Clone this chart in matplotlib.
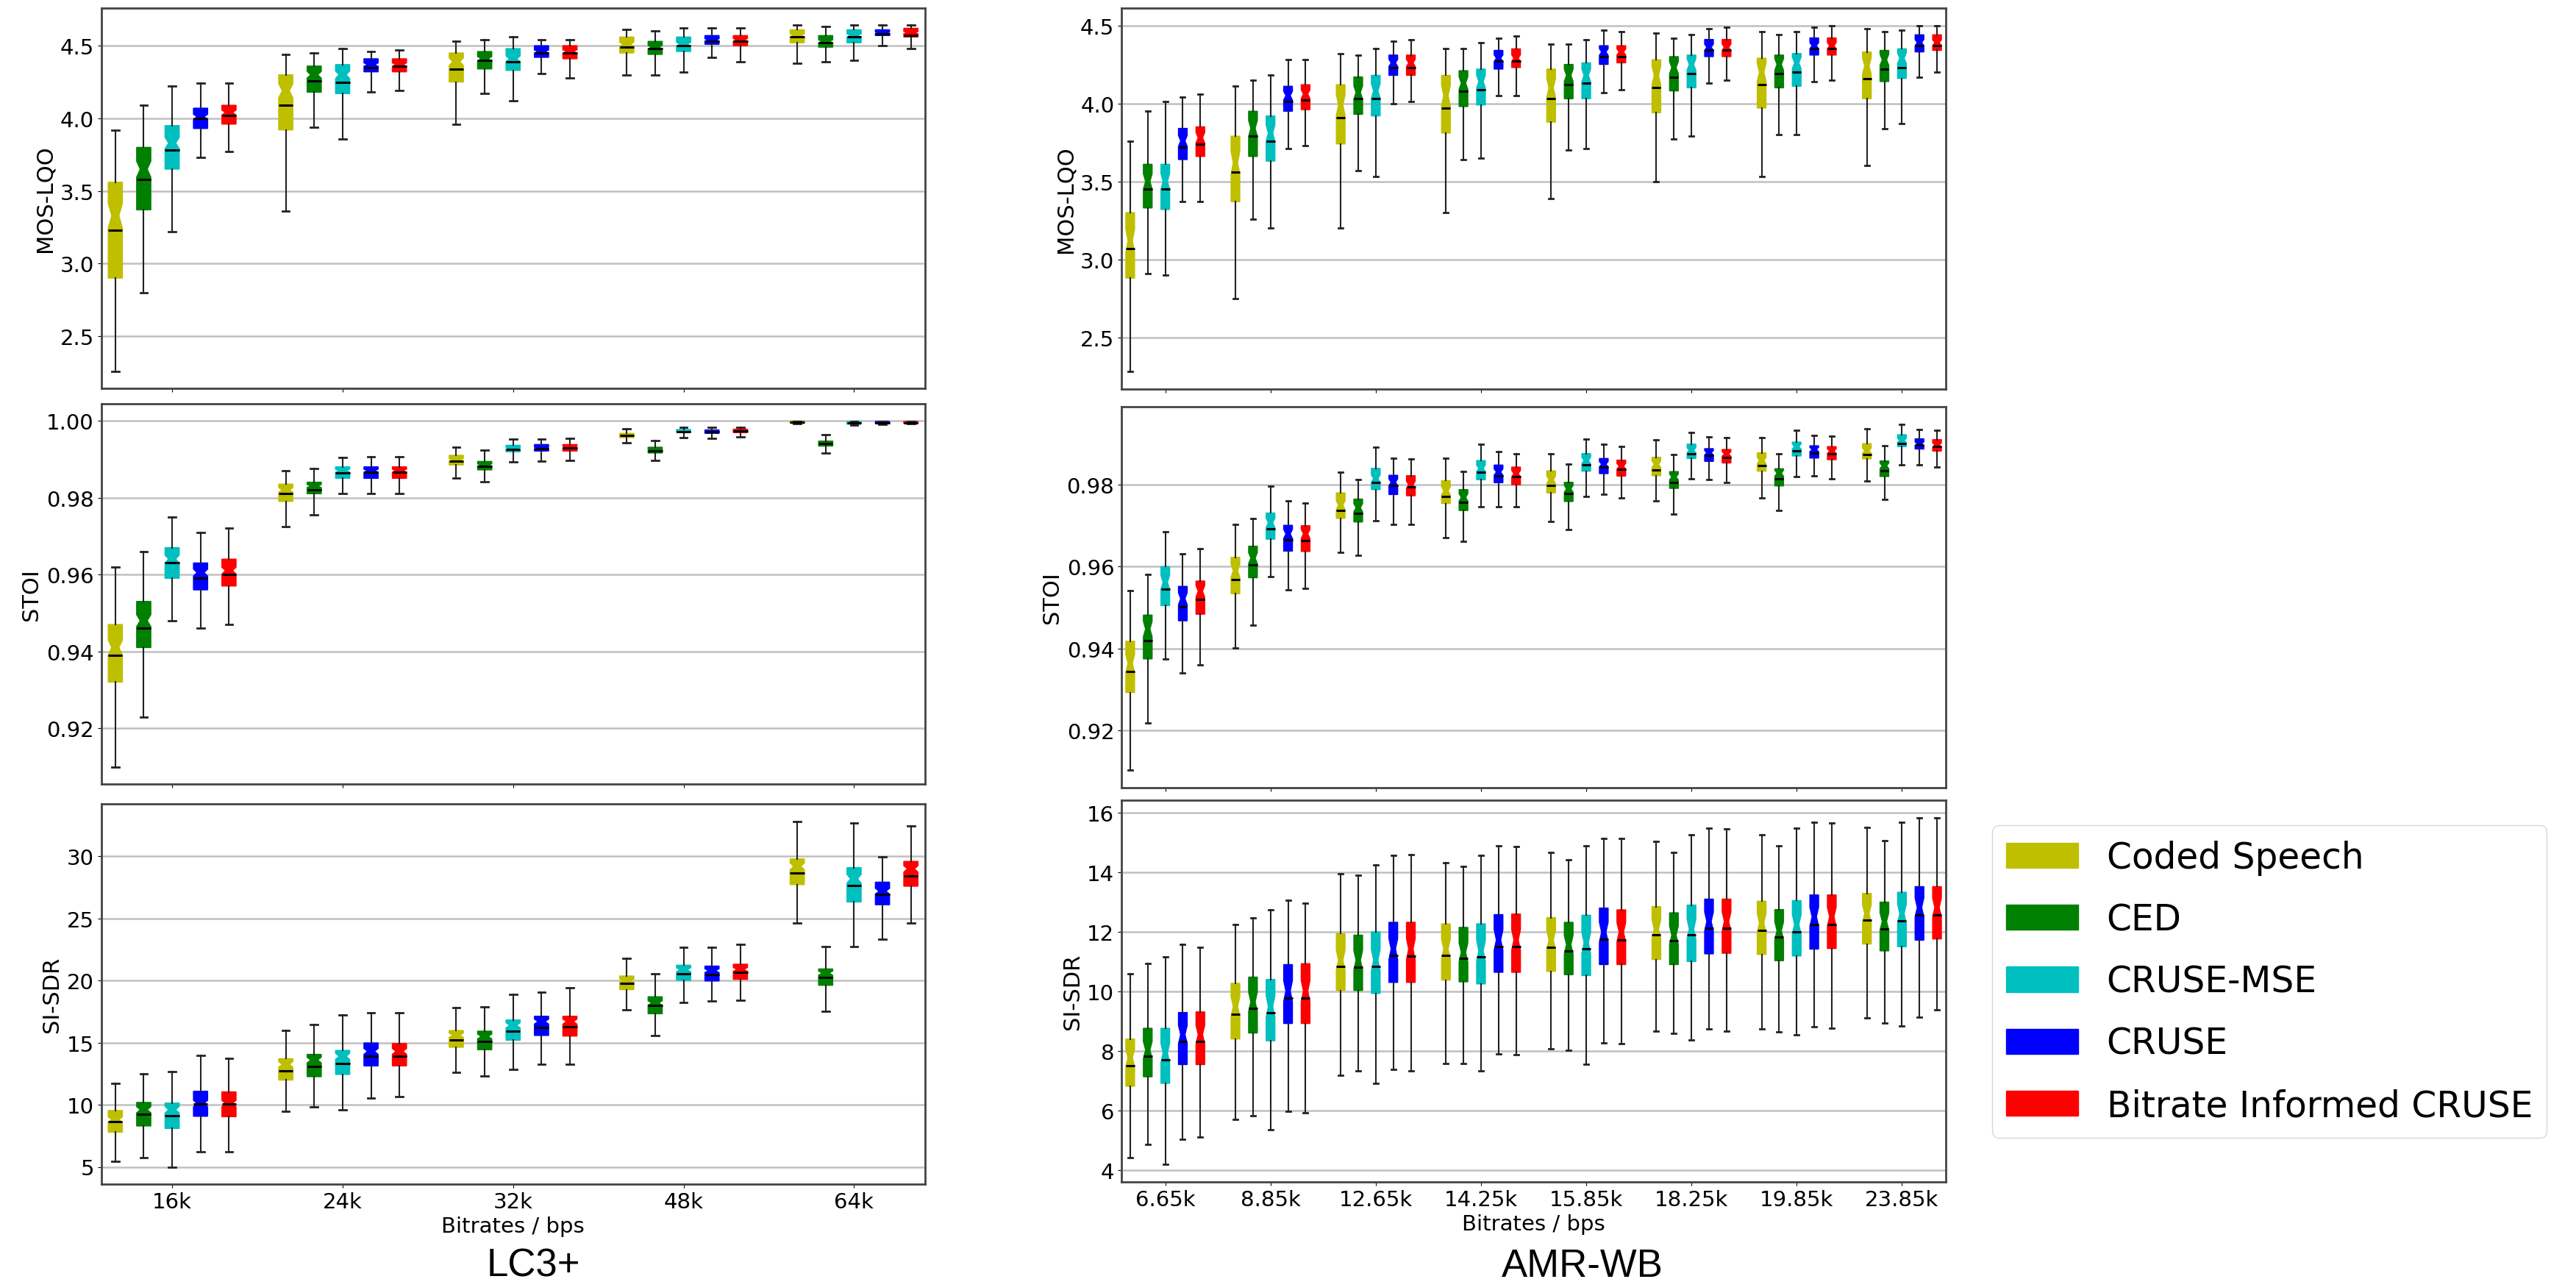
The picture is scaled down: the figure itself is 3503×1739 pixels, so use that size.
import matplotlib
matplotlib.use("Agg")
import matplotlib.pyplot as plt
from matplotlib.patches import Patch
import numpy as np

# methods / colours
METHODS = ["Coded Speech", "CED", "CRUSE-MSE", "CRUSE", "Bitrate Informed CRUSE"]
COLORS = ["y", "g", "c", "b", "r"]

LC3_RATES = ["16k", "24k", "32k", "48k", "64k"]
AMR_RATES = ["6.65k", "8.85k", "12.65k", "14.25k", "15.85k", "18.25k", "19.85k", "23.85k"]

# rows = bitrate, cols = method
# LC3+ MOS-LQO
LC3_MOS_LO = [[2.26, 2.80, 3.22, 3.73, 3.77], [3.36, 3.94, 3.86, 4.18, 4.19], [3.96, 4.17, 4.12, 4.31, 4.28],
              [4.30, 4.30, 4.32, 4.42, 4.39], [4.38, 4.39, 4.40, 4.50, 4.48]]
LC3_MOS_Q1 = [[2.90, 3.37, 3.65, 3.93, 3.96], [3.92, 4.18, 4.17, 4.32, 4.32], [4.25, 4.34, 4.33, 4.42, 4.41],
              [4.45, 4.44, 4.46, 4.51, 4.50], [4.52, 4.49, 4.52, 4.57, 4.56]]
LC3_MOS_MED = [[3.33, 3.65, 3.83, 4.01, 4.04], [4.19, 4.30, 4.30, 4.37, 4.37], [4.39, 4.41, 4.41, 4.46, 4.46],
               [4.51, 4.49, 4.51, 4.54, 4.54], [4.57, 4.53, 4.57, 4.59, 4.59]]
LC3_MOS_MEAN = [[3.23, 3.58, 3.78, 4.00, 4.02], [4.09, 4.26, 4.25, 4.35, 4.36], [4.34, 4.40, 4.39, 4.45, 4.45],
                [4.49, 4.48, 4.50, 4.53, 4.53], [4.56, 4.52, 4.56, 4.58, 4.57]]
LC3_MOS_Q3 = [[3.56, 3.80, 3.95, 4.07, 4.09], [4.30, 4.36, 4.37, 4.41, 4.41], [4.45, 4.46, 4.48, 4.50, 4.50],
              [4.56, 4.53, 4.56, 4.57, 4.57], [4.61, 4.57, 4.61, 4.61, 4.62]]
LC3_MOS_HI = [[3.92, 4.09, 4.22, 4.24, 4.24], [4.44, 4.45, 4.48, 4.46, 4.47], [4.53, 4.54, 4.56, 4.54, 4.54],
              [4.61, 4.60, 4.62, 4.62, 4.62], [4.64, 4.63, 4.64, 4.64, 4.64]]

# LC3+ STOI
LC3_STOI_LO = [[0.910, 0.923, 0.948, 0.946, 0.947], [0.9725, 0.9756, 0.981, 0.981, 0.981],
               [0.985, 0.9841, 0.9892, 0.9894, 0.9896], [0.9943, 0.9896, 0.9956, 0.9954, 0.9958],
               [0.9992, 0.9916, 0.9989, 0.9990, 0.9993]]
LC3_STOI_Q1 = [[0.932, 0.941, 0.959, 0.956, 0.957], [0.979, 0.981, 0.985, 0.985, 0.985],
               [0.9885, 0.9872, 0.9919, 0.9921, 0.9921], [0.9956, 0.9916, 0.9969, 0.9967, 0.9969],
               [0.9993, 0.9934, 0.9991, 0.9992, 0.9993]]
LC3_STOI_MED = [[0.941, 0.948, 0.964, 0.9605, 0.961], [0.982, 0.983, 0.987, 0.987, 0.987],
                [0.9898, 0.9885, 0.9928, 0.9929, 0.9931], [0.9962, 0.9922, 0.9973, 0.9972, 0.9974],
                [0.9996, 0.9941, 0.9995, 0.9995, 0.9996]]
LC3_STOI_MEAN = [[0.939, 0.946, 0.963, 0.959, 0.960], [0.981, 0.982, 0.9864, 0.9866, 0.9866],
                 [0.9894, 0.9882, 0.9925, 0.9927, 0.9929], [0.9961, 0.9921, 0.9971, 0.9971, 0.9973],
                 [0.9996, 0.9940, 0.9995, 0.9995, 0.9995]]
LC3_STOI_Q3 = [[0.947, 0.953, 0.967, 0.963, 0.964], [0.9835, 0.984, 0.988, 0.988, 0.988],
               [0.991, 0.9894, 0.9936, 0.9938, 0.9938], [0.9967, 0.9931, 0.9977, 0.9976, 0.9978],
               [0.9999, 0.9947, 0.9998, 0.9998, 0.9998]]
LC3_STOI_HI = [[0.962, 0.966, 0.975, 0.971, 0.972], [0.987, 0.9875, 0.9905, 0.9907, 0.9907],
               [0.9931, 0.9923, 0.9953, 0.9953, 0.9955], [0.9978, 0.9948, 0.9982, 0.9982, 0.9982],
               [0.9999, 0.9964, 0.9999, 0.9999, 0.9999]]

# LC3+ SI-SDR
LC3_SDR_LO = [[5.45, 5.75, 5.0, 6.2, 6.2], [9.47, 9.84, 9.57, 10.56, 10.64], [12.63, 12.29, 12.86, 13.26, 13.26],
              [17.67, 15.58, 18.25, 18.35, 18.42], [24.66, 17.55, 22.74, 23.36, 24.66]]
LC3_SDR_Q1 = [[7.79, 8.29, 8.09, 9.07, 9.04], [11.99, 12.26, 12.44, 13.13, 13.13], [14.63, 14.43, 15.2, 15.58, 15.53],
              [19.27, 17.33, 20.02, 19.97, 20.1], [27.73, 19.62, 26.33, 26.11, 27.6]]
LC3_SDR_MED = [[8.8, 9.6, 9.6, 10.1, 10.1], [13.25, 13.6, 13.9, 14.3, 14.3], [15.6, 15.5, 16.4, 16.7, 16.7],
               [20.0, 18.2, 20.87, 20.8, 20.9], [29.2, 20.6, 28.2, 27.2, 29.0]]
LC3_SDR_MEAN = [[8.64, 9.22, 9.09, 10.09, 10.09], [12.73, 13.08, 13.31, 13.93, 13.93],
                [15.23, 15.08, 15.93, 16.23, 16.28], [19.8, 18.0, 20.54, 20.49, 20.67],
                [28.65, 20.27, 27.68, 26.96, 28.4]]
LC3_SDR_Q3 = [[9.54, 10.19, 10.14, 11.09, 11.04], [13.71, 14.06, 14.38, 14.98, 14.93],
              [15.98, 15.93, 16.83, 17.13, 17.13], [20.37, 18.7, 21.24, 21.17, 21.32], [29.8, 20.94, 29.1, 27.93, 29.6]]
LC3_SDR_HI = [[11.71, 12.51, 12.68, 14.0, 13.76], [15.98, 16.45, 17.23, 17.4, 17.4],
              [17.82, 17.87, 18.87, 19.05, 19.45], [21.82, 20.54, 22.69, 22.69, 22.91],
              [32.84, 22.74, 32.67, 29.98, 32.47]]

# AMR-WB MOS-LQO
AMR_MOS_LO = [[2.28, 2.91, 2.90, 3.37, 3.37], [2.75, 3.26, 3.20, 3.71, 3.73], [3.20, 3.57, 3.53, 4.00, 4.01],
              [3.30, 3.64, 3.65, 4.05, 4.05], [3.39, 3.70, 3.71, 4.07, 4.09], [3.50, 3.77, 3.79, 4.13, 4.15],
              [3.53, 3.80, 3.80, 4.14, 4.15], [3.60, 3.84, 3.87, 4.17, 4.20]]
AMR_MOS_Q1 = [[2.88, 3.33, 3.32, 3.64, 3.66], [3.37, 3.66, 3.63, 3.95, 3.96], [3.74, 3.93, 3.92, 4.18, 4.18],
              [3.81, 3.98, 3.99, 4.22, 4.23], [3.88, 4.03, 4.03, 4.25, 4.26], [3.94, 4.08, 4.10, 4.30, 4.30],
              [3.97, 4.10, 4.11, 4.31, 4.31], [4.03, 4.14, 4.16, 4.33, 4.34]]
AMR_MOS_MED = [[3.12, 3.50, 3.50, 3.76, 3.78], [3.62, 3.84, 3.81, 4.05, 4.06], [3.99, 4.07, 4.08, 4.26, 4.26],
               [4.05, 4.13, 4.14, 4.29, 4.29], [4.10, 4.18, 4.18, 4.33, 4.33], [4.18, 4.23, 4.25, 4.36, 4.36],
               [4.20, 4.25, 4.26, 4.37, 4.37], [4.24, 4.28, 4.29, 4.39, 4.39]]
AMR_MOS_MEAN = [[3.07, 3.45, 3.45, 3.72, 3.74], [3.56, 3.79, 3.76, 4.01, 4.02], [3.91, 4.03, 4.03, 4.23, 4.23],
                [3.97, 4.08, 4.09, 4.27, 4.27], [4.03, 4.12, 4.13, 4.30, 4.30], [4.10, 4.17, 4.19, 4.34, 4.34],
                [4.12, 4.19, 4.20, 4.35, 4.35], [4.16, 4.22, 4.23, 4.37, 4.37]]
AMR_MOS_Q3 = [[3.30, 3.61, 3.61, 3.84, 3.85], [3.79, 3.95, 3.92, 4.11, 4.12], [4.12, 4.17, 4.18, 4.31, 4.31],
              [4.18, 4.21, 4.22, 4.34, 4.35], [4.22, 4.25, 4.26, 4.37, 4.37], [4.28, 4.30, 4.31, 4.41, 4.41],
              [4.29, 4.31, 4.32, 4.42, 4.42], [4.33, 4.34, 4.35, 4.44, 4.44]]
AMR_MOS_HI = [[3.76, 3.95, 4.01, 4.04, 4.06], [4.11, 4.15, 4.18, 4.28, 4.28], [4.32, 4.31, 4.35, 4.40, 4.41],
              [4.35, 4.35, 4.39, 4.42, 4.43], [4.38, 4.38, 4.41, 4.47, 4.46], [4.45, 4.42, 4.44, 4.48, 4.49],
              [4.46, 4.44, 4.46, 4.49, 4.50], [4.48, 4.46, 4.47, 4.50, 4.50]]

# AMR-WB STOI
AMR_STOI_LO = [[0.9103, 0.9219, 0.9374, 0.934, 0.936], [0.9401, 0.9458, 0.9576, 0.9544, 0.9547],
               [0.9635, 0.9627, 0.9713, 0.9704, 0.9703], [0.967, 0.9662, 0.9746, 0.9747, 0.9746],
               [0.971, 0.9691, 0.9772, 0.9777, 0.9767], [0.976, 0.9729, 0.9815, 0.9812, 0.9805],
               [0.9768, 0.9738, 0.982, 0.9822, 0.9814], [0.9809, 0.9764, 0.9848, 0.9849, 0.9844]]
AMR_STOI_Q1 = [[0.9293, 0.9375, 0.9505, 0.9468, 0.9484], [0.9534, 0.9573, 0.9667, 0.9638, 0.9637],
               [0.9718, 0.9709, 0.9788, 0.9776, 0.9773], [0.9754, 0.9737, 0.9812, 0.9805, 0.98],
               [0.978, 0.9759, 0.9833, 0.9827, 0.9821], [0.9822, 0.9791, 0.9864, 0.9857, 0.9853],
               [0.9833, 0.9797, 0.987, 0.9865, 0.9861], [0.9863, 0.982, 0.9893, 0.9887, 0.9882]]
AMR_STOI_MED = [[0.9364, 0.9448, 0.9562, 0.9522, 0.954], [0.959, 0.9621, 0.9707, 0.968, 0.968],
                [0.975, 0.9744, 0.9815, 0.9806, 0.98], [0.9785, 0.9769, 0.984, 0.9831, 0.9827],
                [0.9812, 0.979, 0.9859, 0.985, 0.9845], [0.985, 0.9819, 0.9884, 0.9878, 0.9875],
                [0.9859, 0.9828, 0.9893, 0.9886, 0.9882], [0.9883, 0.9846, 0.9908, 0.99, 0.9897]]
AMR_STOI_MEAN = [[0.9345, 0.942, 0.9545, 0.9503, 0.9521], [0.9568, 0.9604, 0.9692, 0.9666, 0.9664],
                 [0.9738, 0.973, 0.9806, 0.9798, 0.9794], [0.9772, 0.9757, 0.983, 0.9822, 0.9819],
                 [0.9799, 0.9778, 0.9849, 0.9843, 0.9838], [0.9836, 0.9805, 0.9876, 0.9871, 0.9867],
                 [0.9847, 0.9814, 0.9883, 0.9878, 0.9875], [0.9873, 0.9835, 0.9901, 0.9897, 0.9893]]
AMR_STOI_Q3 = [[0.9418, 0.9482, 0.96, 0.9552, 0.9565], [0.9623, 0.965, 0.9731, 0.9701, 0.97],
               [0.978, 0.9765, 0.984, 0.9823, 0.9822], [0.981, 0.9788, 0.9859, 0.9848, 0.9843],
               [0.9834, 0.9806, 0.9876, 0.9864, 0.986], [0.9867, 0.9832, 0.9899, 0.9888, 0.9886],
               [0.9878, 0.9839, 0.9904, 0.9895, 0.9893], [0.99, 0.9858, 0.9922, 0.9912, 0.991]]
AMR_STOI_HI = [[0.9542, 0.9581, 0.9686, 0.9631, 0.9644], [0.9704, 0.9717, 0.9796, 0.9761, 0.9756],
               [0.9831, 0.9812, 0.9891, 0.9865, 0.9862], [0.9865, 0.9833, 0.9899, 0.988, 0.9876],
               [0.9876, 0.9851, 0.9911, 0.9899, 0.9893], [0.9909, 0.9873, 0.9928, 0.9917, 0.9914],
               [0.9914, 0.9875, 0.9932, 0.992, 0.9919], [0.9936, 0.9895, 0.9948, 0.9935, 0.9932]]

# AMR-WB SI-SDR
AMR_SDR_LO = [[4.42, 4.85, 4.18, 5.03, 5.11], [5.69, 5.81, 5.34, 5.98, 5.92], [7.17, 7.32, 6.92, 7.39, 7.32],
              [7.58, 7.58, 7.33, 7.90, 7.88], [8.08, 8.03, 7.56, 8.27, 8.24], [8.66, 8.58, 8.36, 8.73, 8.66],
              [8.74, 8.63, 8.53, 8.81, 8.76], [9.10, 8.94, 8.84, 9.13, 9.39]]
AMR_SDR_Q1 = [[6.81, 7.13, 6.91, 7.54, 7.54], [8.40, 8.60, 8.34, 8.92, 8.92], [10.03, 10.03, 9.93, 10.30, 10.30],
              [10.38, 10.32, 10.25, 10.64, 10.64], [10.67, 10.56, 10.53, 10.90, 10.90],
              [11.07, 10.90, 11.00, 11.26, 11.28], [11.24, 11.03, 11.19, 11.42, 11.44],
              [11.59, 11.36, 11.50, 11.72, 11.76]]
AMR_SDR_MED = [[7.77, 8.03, 7.93, 8.55, 8.55], [9.49, 9.65, 9.49, 10.01, 10.01], [11.05, 11.05, 11.05, 11.42, 11.42],
               [11.42, 11.31, 11.36, 11.73, 11.73], [11.73, 11.57, 11.63, 11.99, 11.99],
               [12.09, 11.89, 12.09, 12.35, 12.35], [12.30, 12.04, 12.25, 12.51, 12.51],
               [12.61, 12.35, 12.61, 12.82, 12.82]]
AMR_SDR_MEAN = [[7.51, 7.82, 7.70, 8.31, 8.31], [9.23, 9.42, 9.28, 9.77, 9.77], [10.84, 10.81, 10.84, 11.21, 11.19],
                [11.21, 11.10, 11.16, 11.50, 11.50], [11.49, 11.36, 11.44, 11.75, 11.73],
                [11.91, 11.70, 11.89, 12.13, 12.13], [12.06, 11.82, 12.01, 12.25, 12.25],
                [12.40, 12.09, 12.38, 12.58, 12.58]]
AMR_SDR_Q3 = [[8.40, 8.76, 8.76, 9.29, 9.31], [10.27, 10.48, 10.40, 10.90, 10.93], [11.94, 11.89, 12.00, 12.32, 12.32],
              [12.27, 12.15, 12.27, 12.58, 12.60], [12.48, 12.32, 12.56, 12.80, 12.74],
              [12.85, 12.64, 12.90, 13.10, 13.10], [13.03, 12.75, 13.05, 13.24, 13.24],
              [13.29, 13.00, 13.33, 13.52, 13.52]]
AMR_SDR_HI = [[10.58, 10.94, 11.16, 11.59, 11.49], [12.25, 12.46, 12.75, 13.05, 12.97],
              [13.94, 13.89, 14.25, 14.58, 14.60], [14.32, 14.20, 14.58, 14.89, 14.86],
              [14.66, 14.43, 14.89, 15.15, 15.14], [15.03, 14.68, 15.25, 15.48, 15.46],
              [15.27, 14.89, 15.48, 15.69, 15.66], [15.50, 15.06, 15.69, 15.84, 15.84]]

# rough number of test files per codec (used for notch size)
N_LC3 = 150
N_AMR = 80

W, H = 3503, 1740
fig = plt.figure(figsize=(W / 100, H / 100), dpi=100)
plt.rcParams["font.family"] = "DejaVu Sans"


def px_rect(x0, y0, x1, y1):
    return [x0 / W, 1 - y1 / H, (x1 - x0) / W, (y1 - y0) / H]


def draw_panel(ax, data, rates, n_files, ylabel, show_xlabels):
    lo, q1, med, mean, q3, hi = [np.array(d) for d in data]
    n_groups = len(rates)
    for m, color in enumerate(COLORS):
        stats = []
        positions = []
        for g in range(n_groups):
            iqr = q3[g, m] - q1[g, m]
            ci = 1.57 * iqr / np.sqrt(n_files)
            stats.append(dict(med=med[g, m], q1=q1[g, m], q3=q3[g, m],
                              whislo=lo[g, m], whishi=hi[g, m], mean=mean[g, m],
                              cilo=med[g, m] - ci, cihi=med[g, m] + ci, fliers=[]))
            positions.append(6 * g + m + 1)
        ax.bxp(stats, positions=positions, widths=0.5, patch_artist=True,
               shownotches=True, showmeans=True, meanline=True, showfliers=False,
               manage_ticks=False,
               boxprops=dict(facecolor=color, edgecolor=color, linewidth=1),
               medianprops=dict(color=color, linewidth=0.5),
               meanprops=dict(color="k", linestyle="-", linewidth=2.2),
               whiskerprops=dict(color="#222222", linewidth=1.5),
               capprops=dict(color="#222222", linewidth=2))
    ax.set_xlim(0.5, 6 * (n_groups - 1) + 5.5)
    ax.margins(y=0.05)
    ax.autoscale(axis="y")
    ax.set_xticks([6 * g + 3 for g in range(n_groups)])
    if show_xlabels:
        ax.set_xticklabels(rates, fontsize=21)
        ax.set_xlabel("Bitrates / bps", fontsize=21)
    else:
        ax.set_xticklabels([])
    ax.tick_params(axis="y", labelsize=21)
    ax.set_ylabel(ylabel, fontsize=22)
    ax.yaxis.grid(True, color="#c0c0c0", linewidth=1.8)
    ax.set_axisbelow(True)
    for sp in ax.spines.values():
        sp.set_color("#444444")
        sp.set_linewidth(2)


lc3_panels = [
    ((LC3_MOS_LO, LC3_MOS_Q1, LC3_MOS_MED, LC3_MOS_MEAN, LC3_MOS_Q3, LC3_MOS_HI), "MOS-LQO"),
    ((LC3_STOI_LO, LC3_STOI_Q1, LC3_STOI_MED, LC3_STOI_MEAN, LC3_STOI_Q3, LC3_STOI_HI), "STOI"),
    ((LC3_SDR_LO, LC3_SDR_Q1, LC3_SDR_MED, LC3_SDR_MEAN, LC3_SDR_Q3, LC3_SDR_HI), "SI-SDR"),
]
amr_panels = [
    ((AMR_MOS_LO, AMR_MOS_Q1, AMR_MOS_MED, AMR_MOS_MEAN, AMR_MOS_Q3, AMR_MOS_HI), "MOS-LQO"),
    ((AMR_STOI_LO, AMR_STOI_Q1, AMR_STOI_MED, AMR_STOI_MEAN, AMR_STOI_Q3, AMR_STOI_HI), "STOI"),
    ((AMR_SDR_LO, AMR_SDR_Q1, AMR_SDR_MED, AMR_SDR_MEAN, AMR_SDR_Q3, AMR_SDR_HI), "SI-SDR"),
]

left_rows = [(12, 529), (550, 1067), (1094, 1611)]
right_rows = [(12, 530), (554, 1072), (1089, 1608)]

for i, (data, lab) in enumerate(lc3_panels):
    y0, y1 = left_rows[i]
    ax = fig.add_axes(px_rect(137.5, y0, 1258, y1))
    draw_panel(ax, data, LC3_RATES, N_LC3, lab, i == 2)

for i, (data, lab) in enumerate(amr_panels):
    y0, y1 = right_rows[i]
    ax = fig.add_axes(px_rect(1525, y0, 2646, y1))
    draw_panel(ax, data, AMR_RATES, N_AMR, lab, i == 2)

fig.text(725 / W, 1 - 1736 / H, "LC3+", family="Liberation Sans", fontsize=38,
         ha="center", va="baseline")
fig.text(2152 / W, 1 - 1736 / H, "AMR-WB", family="Liberation Sans", fontsize=38,
         ha="center", va="baseline")

handles = [Patch(facecolor=c, edgecolor=c) for c in COLORS]
fig.legend(handles, METHODS, loc="center left", bbox_to_anchor=(2709 / W, 1 - 1335.5 / H),
           fontsize=35, labelspacing=0.75, borderaxespad=0, frameon=True)

fig.savefig("out.png", dpi=100)
